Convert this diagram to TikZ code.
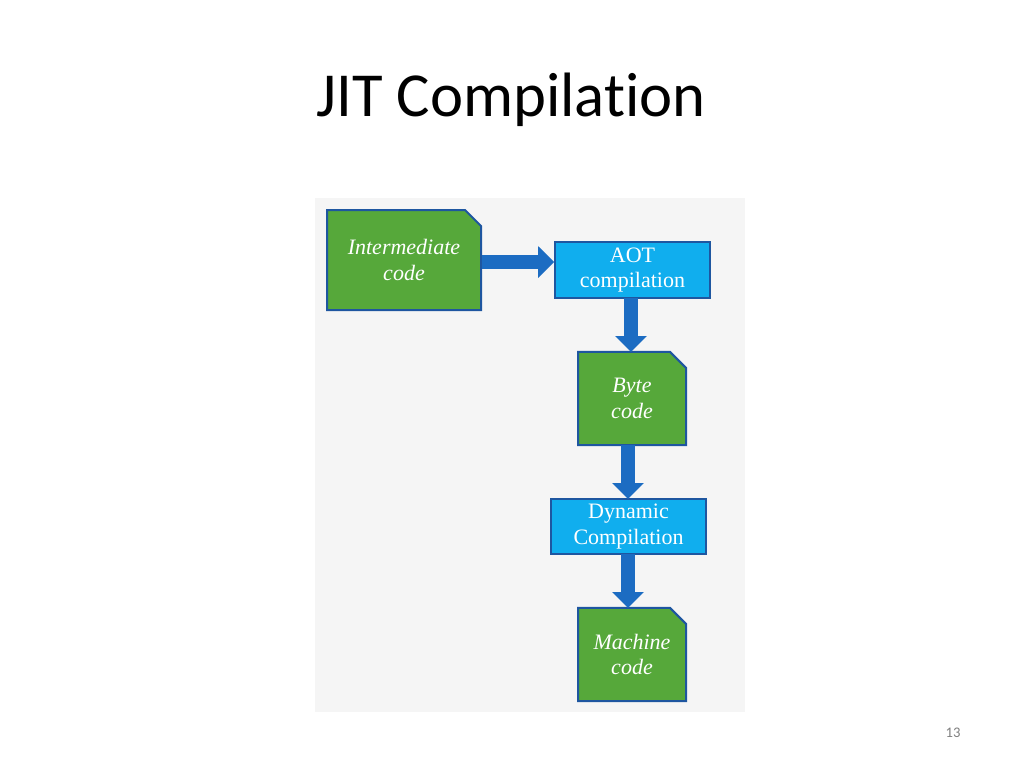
\documentclass[tikz,border=0pt]{standalone}
\usepackage{fontspec}
\setmainfont{Liberation Serif}
\newfontfamily\titlefont[Ligatures=NoCommon]{Carlito}
\usetikzlibrary{shapes.misc,arrows.meta}
\definecolor{grn}{HTML}{56A83A}
\definecolor{cyanb}{HTML}{10AEEE}
\definecolor{edge}{HTML}{1E56A0}
\definecolor{arr}{HTML}{1C6CC2}
\begin{document}
\begin{tikzpicture}[x=0.75pt,y=-0.75pt,
  doc/.style={chamfered rectangle,chamfered rectangle corners=north east,chamfered rectangle xsep=9pt,
    fill=grn,draw=edge,line width=1.5pt,inner sep=0pt,text=white,align=center,font=\itshape\fontsize{16.5}{19}\selectfont},
  proc/.style={rectangle,fill=cyanb,draw=edge,line width=1.5pt,inner sep=0pt,text=white,align=center,font=\fontsize{16.5}{19}\selectfont},
  bigarrow/.style={draw=arr,line width=10.5pt,-{Triangle[width=23pt,length=12pt]}}]
\useasboundingbox (0,0) rectangle (1024,768);
\fill[white] (0,0) rectangle (1024,768);
\fill[gray!8] (315,198) rectangle (745,712);
\node[font=\titlefont\fontsize{47}{50}\selectfont] (title) at (511,100) {JIT Compilation};
\node[font=\titlefont\fontsize{11}{13}\selectfont,text=gray] (pg) at (953,733) {13};
\node[doc,minimum width=115.5pt,minimum height=75pt] (ic) at (404,260) {Intermediate\\code};
\node[proc,minimum width=116pt,minimum height=42pt] (aot) at (632.5,270) {AOT\\compilation};
\node[doc,minimum width=81pt,minimum height=70pt] (bc) at (632,398.5) {Byte\\code};
\node[proc,minimum width=116pt,minimum height=41pt] (dyn) at (628.5,526.5) {Dynamic\\Compilation};
\node[doc,minimum width=81pt,minimum height=70pt] (mc) at (632,654.5) {Machine\\code};
\draw[bigarrow] (ic.east |- 0,262) -- (aot.west |- 0,262);
\draw[bigarrow] (631,298) -- (631,352);
\draw[bigarrow] (628,445) -- (628,499);
\draw[bigarrow] (628,554) -- (628,608);
\end{tikzpicture}
\end{document}
